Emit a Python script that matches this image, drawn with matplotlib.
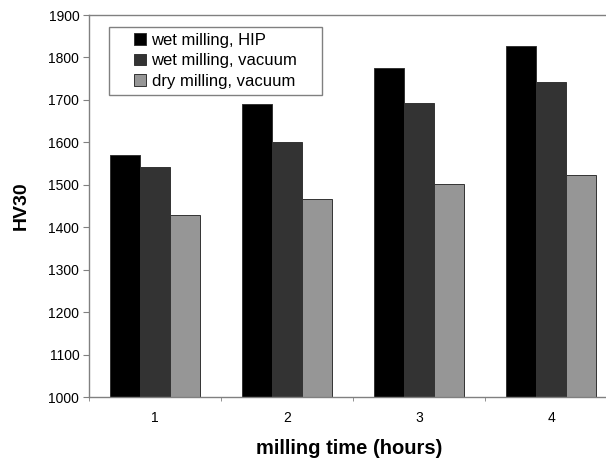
import matplotlib
matplotlib.use("Agg")
import matplotlib.pyplot as plt
from matplotlib.patches import Rectangle
import numpy as np

plt.rcParams['font.family'] = ['Liberation Sans', 'DejaVu Sans']

categories = ["1", "2", "3", "4"]
series_names = ["wet milling, HIP", "wet milling, vacuum", "dry milling, vacuum"]
wet_hip = [1570, 1691, 1775, 1828]
wet_vacuum = [1541, 1602, 1694, 1742]
dry_vacuum = [1430, 1468, 1503, 1523]
yticks = [1000, 1100, 1200, 1300, 1400, 1500, 1600, 1700, 1800, 1900]

colors = ["#000000", "#333333", "#969696"]

W, H = 606, 459
fig = plt.figure(figsize=(W / 100, H / 100), dpi=100)
left, right, top, bottom = 89, 617, 15, 397.3
ax = fig.add_axes([left / W, 1 - bottom / H, (right - left) / W, (bottom - top) / H])

x = np.arange(1, len(categories) + 1)
bw = 0.227
for i, (vals, name, c) in enumerate(zip([wet_hip, wet_vacuum, dry_vacuum], series_names, colors)):
    ax.bar(x + (i - 1) * bw, np.array(vals) - 1000, bw, bottom=1000, color=c,
           edgecolor="#333333", linewidth=0.7, label=name, zorder=2)

ax.set_xlim(0.5, 4.5)
ax.set_ylim(1000, 1900)
ax.set_yticks(yticks)
ax.set_yticklabels([str(v) for v in yticks], fontsize=10)
ax.set_xticks(x)
ax.set_xticklabels(categories, fontsize=10)
ax.set_xticks(np.arange(0.5, 5.0, 1.0), minor=True)
ax.tick_params(axis='x', which='major', length=0, pad=10)
ax.tick_params(axis='x', which='minor', length=3, color="#808080", direction='out')
ax.tick_params(axis='y', length=4, color="#808080", direction='out', pad=3)

for s in ["left", "bottom", "top"]:
    ax.spines[s].set_color("#808080")
    ax.spines[s].set_linewidth(1.0)
ax.spines["right"].set_visible(False)

ax.set_xlabel("milling time (hours)", fontsize=14.5, fontweight="bold")
ax.set_ylabel("HV30", fontsize=14, fontweight="bold", labelpad=13)
ax.xaxis.set_label_coords((349 - left) / (right - left), -(439 - bottom) / (bottom - top))

# legend frame drawn separately to get the wide horizontal padding of the original
frame = Rectangle((109 / W, 1 - 95 / H), (322 - 109) / W, (95 - 27) / H,
                  transform=fig.transFigure, facecolor="white",
                  edgecolor="#808080", linewidth=1.0, zorder=4, clip_on=False)
ax.add_artist(frame)
leg = ax.legend(loc="upper left", bbox_to_anchor=(134 / W, 1 - 33 / H),
                bbox_transform=fig.transFigure, fontsize=12, frameon=False,
                handlelength=0.7, handleheight=0.7, handletextpad=0.35,
                labelspacing=0.32, borderpad=0, borderaxespad=0)
leg.set_zorder(5)

fig.savefig("out.png", dpi=100)
